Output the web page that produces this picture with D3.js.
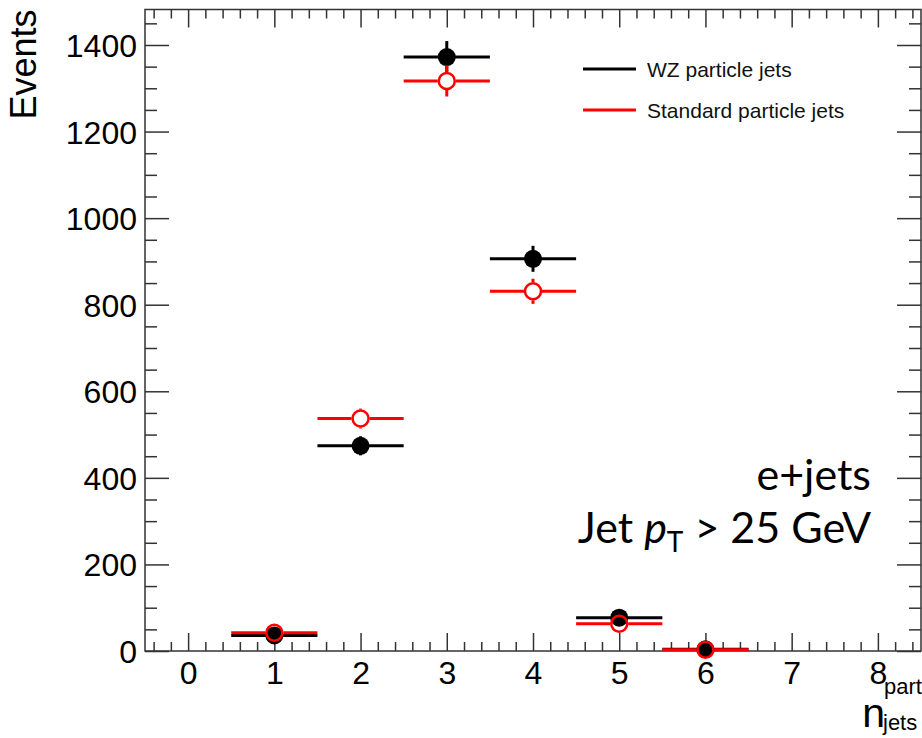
<!DOCTYPE html>
<html>
<head>
<meta charset="utf-8">
<script src="https://cdn.jsdelivr.net/npm/d3@7"></script>
<style>
  body { margin: 0; background: #fff; }
  svg { display: block; }
  .tick text { font-family: "Liberation Sans", Arial, sans-serif; fill: #000; }
</style>
</head>
<body>
<div id="chart"></div>
<script>
// DATA: jet multiplicity bins and event counts
const nJets     = [1, 2, 3, 4, 5, 6];
const wzEvents  = [36, 474, 1372, 906, 77, 4];
const wzErr     = [6, 22, 37, 30, 9, 2];
const stdEvents = [42, 537, 1317, 831, 63, 3];
const stdErr    = [6, 23, 36, 29, 8, 2];
const xMajorTicks = [0, 1, 2, 3, 4, 5, 6, 7, 8];
const yMajorTicks = [0, 200, 400, 600, 800, 1000, 1200, 1400];
const legendLabels = ["WZ particle jets", "Standard particle jets"];

// SETUP
const W = 922, H = 738;
const frame = { left: 145, right: 921, top: 9.5, bottom: 651 };

const svg = d3.select("#chart").append("svg")
    .attr("width", W)
    .attr("height", H);

// SCALES
const x = d3.scaleLinear().domain([-0.5, 8.5]).range([frame.left, frame.right]);
const y = d3.scaleLinear().domain([0, 1482]).range([frame.bottom, frame.top]);

const xMinor = d3.range(-2, 43).map(i => i * 0.2).filter(v => Math.abs(v - Math.round(v)) > 0.01);
const yMinor = d3.range(0, 30).map(i => i * 50).filter(v => v % 200 !== 0);

// AXES (ROOT style: ticks point inward, mirrored on top/right)
function styleAxis(g) {
  g.select(".domain").remove();
  g.selectAll(".tick line").attr("stroke", "#333").attr("stroke-width", 1.5);
}

// left
svg.append("g")
    .attr("transform", `translate(${frame.left},0)`)
    .call(d3.axisLeft(y).tickValues(yMajorTicks).tickSize(-24).tickPadding(8).tickFormat(d3.format("d")))
    .call(styleAxis)
    .selectAll("text").attr("font-size", 32).attr("dy", "0.36em");
svg.append("g")
    .attr("transform", `translate(${frame.left},0)`)
    .call(d3.axisLeft(y).tickValues(yMinor).tickSize(-12).tickFormat(""))
    .call(styleAxis);
// right
svg.append("g")
    .attr("transform", `translate(${frame.right},0)`)
    .call(d3.axisRight(y).tickValues(yMajorTicks).tickSize(-24).tickFormat(""))
    .call(styleAxis);
svg.append("g")
    .attr("transform", `translate(${frame.right},0)`)
    .call(d3.axisRight(y).tickValues(yMinor).tickSize(-12).tickFormat(""))
    .call(styleAxis);
// bottom
svg.append("g")
    .attr("transform", `translate(0,${frame.bottom})`)
    .call(d3.axisBottom(x).tickValues(xMajorTicks).tickSize(-18).tickPadding(10).tickFormat(d3.format("d")))
    .call(styleAxis)
    .selectAll("text").attr("font-size", 32);
svg.append("g")
    .attr("transform", `translate(0,${frame.bottom})`)
    .call(d3.axisBottom(x).tickValues(xMinor).tickSize(-9).tickFormat(""))
    .call(styleAxis);
// top
svg.append("g")
    .attr("transform", `translate(0,${frame.top})`)
    .call(d3.axisTop(x).tickValues(xMajorTicks).tickSize(-18).tickFormat(""))
    .call(styleAxis);
svg.append("g")
    .attr("transform", `translate(0,${frame.top})`)
    .call(d3.axisTop(x).tickValues(xMinor).tickSize(-9).tickFormat(""))
    .call(styleAxis);

// frame
svg.append("rect")
    .attr("x", frame.left).attr("y", frame.top)
    .attr("width", frame.right - frame.left)
    .attr("height", frame.bottom - frame.top)
    .attr("fill", "none")
    .attr("stroke", "#333")
    .attr("stroke-width", 1.5);

// DATA POINTS
const R = 9;
function drawSeries(values, errs, color, filled) {
  const data = nJets.map((n, i) => ({ n, v: values[i], e: errs[i] }));
  const g = svg.append("g");
  const gap = filled ? 0 : R;
  data.forEach(d => {
    const cx = x(d.n), cy = y(d.v);
    // horizontal bin-width bar (open markers leave their inside empty)
    g.append("line")
        .attr("x1", x(d.n - 0.5)).attr("x2", cx - gap)
        .attr("y1", cy).attr("y2", cy)
        .attr("stroke", color).attr("stroke-width", 3);
    g.append("line")
        .attr("x1", cx + gap).attr("x2", x(d.n + 0.5))
        .attr("y1", cy).attr("y2", cy)
        .attr("stroke", color).attr("stroke-width", 3);
    // vertical stat error
    const yTop = y(d.v + d.e), yBot = Math.min(y(d.v - d.e), frame.bottom);
    if (yTop < cy - gap) {
      g.append("line")
          .attr("x1", cx).attr("x2", cx)
          .attr("y1", yTop).attr("y2", cy - gap)
          .attr("stroke", color).attr("stroke-width", 3);
    }
    if (yBot > cy + gap) {
      g.append("line")
          .attr("x1", cx).attr("x2", cx)
          .attr("y1", cy + gap).attr("y2", yBot)
          .attr("stroke", color).attr("stroke-width", 3);
    }
    // marker
    g.append("circle")
        .attr("cx", cx).attr("cy", cy)
        .attr("r", filled ? R : R - 1)
        .attr("fill", filled ? color : "none")
        .attr("stroke", color)
        .attr("stroke-width", filled ? 0 : 2.5);
  });
}
drawSeries(wzEvents, wzErr, "#000", true);
drawSeries(stdEvents, stdErr, "#ff0000", false);

// LEGEND
const legColors = ["#000", "#ff0000"];
legendLabels.forEach((lab, i) => {
  const ly = 69 + i * 41;
  svg.append("line")
      .attr("x1", 583).attr("x2", 636)
      .attr("y1", ly).attr("y2", ly)
      .attr("stroke", legColors[i]).attr("stroke-width", 3);
  svg.append("text")
      .attr("x", 647).attr("y", ly + 7.5)
      .attr("font-family", "Liberation Sans, Arial, sans-serif")
      .attr("font-size", 21)
      .attr("fill", "#111")
      .text(lab);
});

// AXIS TITLES
svg.append("text")
    .attr("transform", `translate(36,${frame.top}) rotate(-90)`)
    .attr("text-anchor", "end")
    .attr("font-family", "Liberation Sans, Arial, sans-serif")
    .attr("font-size", 36)
    .text("Events");

const xt = svg.append("g").attr("font-family", "Liberation Sans, Arial, sans-serif");
xt.append("text").attr("x", 885).attr("y", 727).attr("text-anchor", "end").attr("font-size", 41).text("n");
xt.append("text").attr("x", 884).attr("y", 694).attr("font-size", 22).text("part");
xt.append("text").attr("x", 883).attr("y", 730).attr("font-size", 22).text("jets");

// ANNOTATION
const ann = svg.append("g")
    .attr("font-family", "Lato, 'Open Sans', sans-serif")
    .attr("text-anchor", "end")
    .attr("font-size", 43);
ann.append("text").attr("x", 871).attr("y", 490).text("e+jets");
const t2 = ann.append("text").attr("x", 871).attr("y", 543);
t2.append("tspan").text("Jet ");
t2.append("tspan").attr("font-style", "italic").text("p");
t2.append("tspan").attr("font-size", 28).attr("dy", 9).text("T");
t2.append("tspan").attr("dy", -9).text(" > 25 GeV");
</script>
</body>
</html>
